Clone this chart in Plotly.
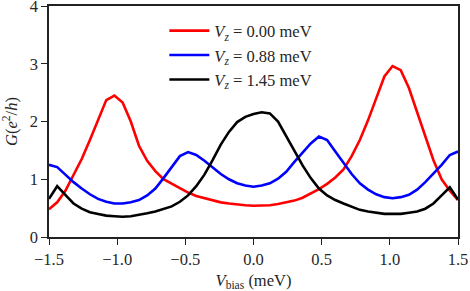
import numpy as np
import plotly.graph_objects as go

# Sampling grid of bias voltage (meV), 51 points
v_bias = np.round(np.linspace(-1.5, 1.5, 51), 2)

g_vz000 = [0.48, 0.60, 0.80, 1.08, 1.35, 1.68, 2.02, 2.37, 2.45, 2.33,
           2.00, 1.58, 1.32, 1.14, 1.00, 0.92, 0.84, 0.77, 0.71, 0.67,
           0.63, 0.60, 0.58, 0.56, 0.55, 0.54, 0.54, 0.55, 0.57, 0.60,
           0.63, 0.68, 0.75, 0.83, 0.92, 1.03, 1.17, 1.40, 1.68, 2.02,
           2.40, 2.78, 2.96, 2.89, 2.58, 2.15, 1.72, 1.33, 1.00, 0.80,
           0.64]

g_vz088 = [1.25, 1.21, 1.08, 0.95, 0.84, 0.74, 0.66, 0.61, 0.58, 0.58,
           0.60, 0.64, 0.72, 0.84, 1.02, 1.22, 1.40, 1.47, 1.42, 1.32,
           1.20, 1.09, 1.00, 0.93, 0.89, 0.87, 0.89, 0.93, 1.01, 1.13,
           1.30, 1.47, 1.62, 1.74, 1.68, 1.48, 1.28, 1.09, 0.93, 0.82,
           0.74, 0.69, 0.67, 0.69, 0.73, 0.82, 0.95, 1.10, 1.25, 1.42,
           1.48]

g_vz145 = [0.66, 0.88, 0.73, 0.58, 0.49, 0.43, 0.40, 0.37, 0.36, 0.35,
           0.36, 0.38, 0.41, 0.44, 0.48, 0.53, 0.61, 0.72, 0.88, 1.08,
           1.33, 1.60, 1.82, 1.99, 2.08, 2.13, 2.16, 2.14, 2.00, 1.75,
           1.48, 1.24, 1.02, 0.84, 0.72, 0.64, 0.58, 0.52, 0.47, 0.44,
           0.42, 0.40, 0.40, 0.40, 0.42, 0.44, 0.49, 0.58, 0.72, 0.86,
           0.65]

series = [
    ("<i>V</i><sub><i>z</i></sub> = 0.00 meV", g_vz000, "#ff0000"),
    ("<i>V</i><sub><i>z</i></sub> = 0.88 meV", g_vz088, "#0000ff"),
    ("<i>V</i><sub><i>z</i></sub> = 1.45 meV", g_vz145, "#000000"),
]

x_ticks = [-1.5, -1.0, -0.5, 0.0, 0.5, 1.0, 1.5]
x_ticklabels = ["−1.5", "−1.0", "−0.5", "0.0", "0.5", "1.0", "1.5"]
y_ticks = [0, 1, 2, 3, 4]

fig = go.Figure()
for i, (name, g, color) in enumerate(series):
    fig.add_trace(go.Scatter(x=v_bias, y=g, mode="lines", name=name,
                             legendgroup=f"g{i}",
                             line=dict(color=color, width=2.6)))

font_family = "Liberation Serif, DejaVu Serif, serif"
FS = 16.5
axis_common = dict(showline=True, linecolor="#222222", linewidth=1.5,
                   mirror=True, showgrid=False, zeroline=False,
                   ticks="outside", ticklen=6, tickwidth=1.3,
                   tickcolor="#222222", ticklabeloverflow="allow",
                   tickfont=dict(family=font_family, size=FS, color="#262626"))

fig.update_layout(
    width=470, height=291,
    margin=dict(l=49, r=12, t=6, b=54, autoexpand=False),
    paper_bgcolor="white", plot_bgcolor="white",
    font=dict(family=font_family, size=FS, color="#262626"),
    showlegend=True,
    legend=dict(x=0.282, y=0.968, xanchor="left", yanchor="top",
                bgcolor="rgba(255,255,255,0)", borderwidth=0,
                tracegroupgap=0,
                font=dict(family=font_family, size=FS, color="#262626"),
                itemwidth=40),
    xaxis=dict(range=[-1.5, 1.5], tickvals=x_ticks, ticktext=x_ticklabels,
               title=dict(text="<i>V</i><sub>bias</sub> (meV)",
                          font=dict(family=font_family, size=FS), standoff=12),
               **axis_common),
    yaxis=dict(range=[0, 4], tickvals=y_ticks,
               title=dict(text="<i>G</i>(<i>e</i><sup>2</sup>/<i>h</i>)",
                          font=dict(family=font_family, size=FS), standoff=10),
               **axis_common),
)

fig.write_html("out.html", config={"displayModeBar": False},
               post_script="document.body.style.margin='0';")
